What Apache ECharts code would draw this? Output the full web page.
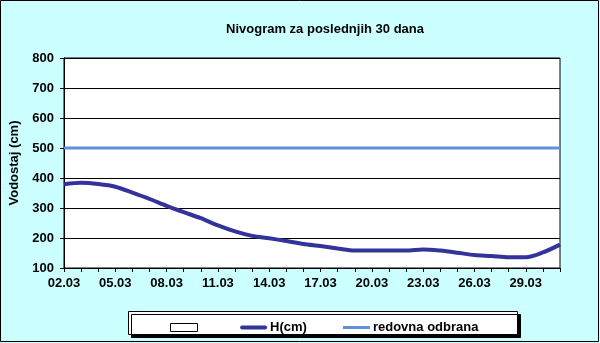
<!DOCTYPE html>
<html><head><meta charset="utf-8">
<script src="https://cdn.jsdelivr.net/npm/echarts@6/dist/echarts.min.js"></script>
<style>html,body{margin:0;padding:0;background:#CCFFFF}#c{width:600px;height:343px}</style>
</head><body><div id="c"></div>
<script>
const categories = ['02.03','03.03','04.03','05.03','06.03','07.03','08.03','09.03','10.03','11.03','12.03','13.03','14.03','15.03','16.03','17.03','18.03','19.03','20.03','21.03','22.03','23.03','24.03','25.03','26.03','27.03','28.03','29.03','30.03','31.03'];
const levelH = [379,384,380,371,351,330,307,286,266,242,222,207,199,190,180,173,165,158,158,158,158,162,158,151,143,140,136,136,152,178];
const redovnaOdbrana = [500,500,500,500,500,500,500,500,500,500,500,500,500,500,500,500,500,500,500,500,500,500,500,500,500,500,500,500,500,500];
const yTicks = {min:100, max:800, interval:100};

const chart = echarts.init(document.getElementById('c'));
const font = 'Liberation Sans, Arial, sans-serif';
chart.setOption({
  backgroundColor:'#CCFFFF',
  animation:false,
  title:{text:'Nivogram za poslednjih 30 dana', left:320, textAlign:'center', top:18,
    textStyle:{fontFamily:font, fontSize:13, fontWeight:'bold', color:'#000'}},
  graphic:[
    {type:'rect', shape:{x:0.5,y:0.5,width:598,height:341}, style:{fill:'none', stroke:'#000', lineWidth:1}, z:100},
    {type:'rect', shape:{x:128.5,y:311.5,width:389,height:23}, style:{fill:'#fff', stroke:'#000', lineWidth:1, shadowColor:'#000', shadowOffsetX:3, shadowOffsetY:3, shadowBlur:0}, z:1}
  ],
  legend:{left:165, top:316, itemGap:36, itemWidth:27, itemHeight:8, z:10,
    textStyle:{fontFamily:font, fontSize:13, fontWeight:'bold', color:'#000', padding:[0,0,0,-2]},
    data:[{name:'\u00a0', icon:'rect', itemStyle:{color:'#fff', borderColor:'#000', borderWidth:1}},
          {name:'H(cm)', icon:'path://M2,0 H25 A2,2 0 0 1 25,4 H2 A2,2 0 0 1 2,0 Z', itemStyle:{color:'#333399', borderWidth:0}},
          {name:'redovna odbrana', icon:'path://M0,0 H27 V3 H0 Z', itemStyle:{color:'#5F90DA', borderWidth:0}}]},
  grid:{left:64, right:40, top:58, bottom:75, show:true, backgroundColor:'#fff', borderColor:'#000', borderWidth:1},
  xAxis:{type:'category', data:categories, boundaryGap:false,
    axisLine:{lineStyle:{color:'#000'}},
    axisTick:{interval:0, length:4, lineStyle:{color:'#000'}},
    axisLabel:{interval:2, fontFamily:font, fontSize:13, fontWeight:'bold', color:'#000', margin:9},
    splitLine:{show:false}},
  yAxis:{type:'value', min:yTicks.min, max:yTicks.max, interval:yTicks.interval,
    name:'Vodostaj (cm)', nameLocation:'middle', nameGap:40,
    nameTextStyle:{fontFamily:font, fontSize:13, fontWeight:'bold', color:'#000'},
    axisLine:{show:true, lineStyle:{color:'#000'}},
    axisTick:{show:true, length:4, lineStyle:{color:'#000'}},
    axisLabel:{fontFamily:font, fontSize:13, fontWeight:'bold', color:'#000', margin:10},
    splitLine:{lineStyle:{color:'#000', width:1}}},
  series:[
    {name:'\u00a0', type:'bar', data:[]},
    {name:'H(cm)', type:'line', data:levelH, smooth:0.3, symbol:'none', color:'#333399', lineStyle:{color:'#333399', width:4}, z:5},
    {name:'redovna odbrana', type:'line', data:redovnaOdbrana, symbol:'none', color:'#5F90DA', lineStyle:{color:'#5F90DA', width:3}, z:4}
  ]
});
</script></body></html>
